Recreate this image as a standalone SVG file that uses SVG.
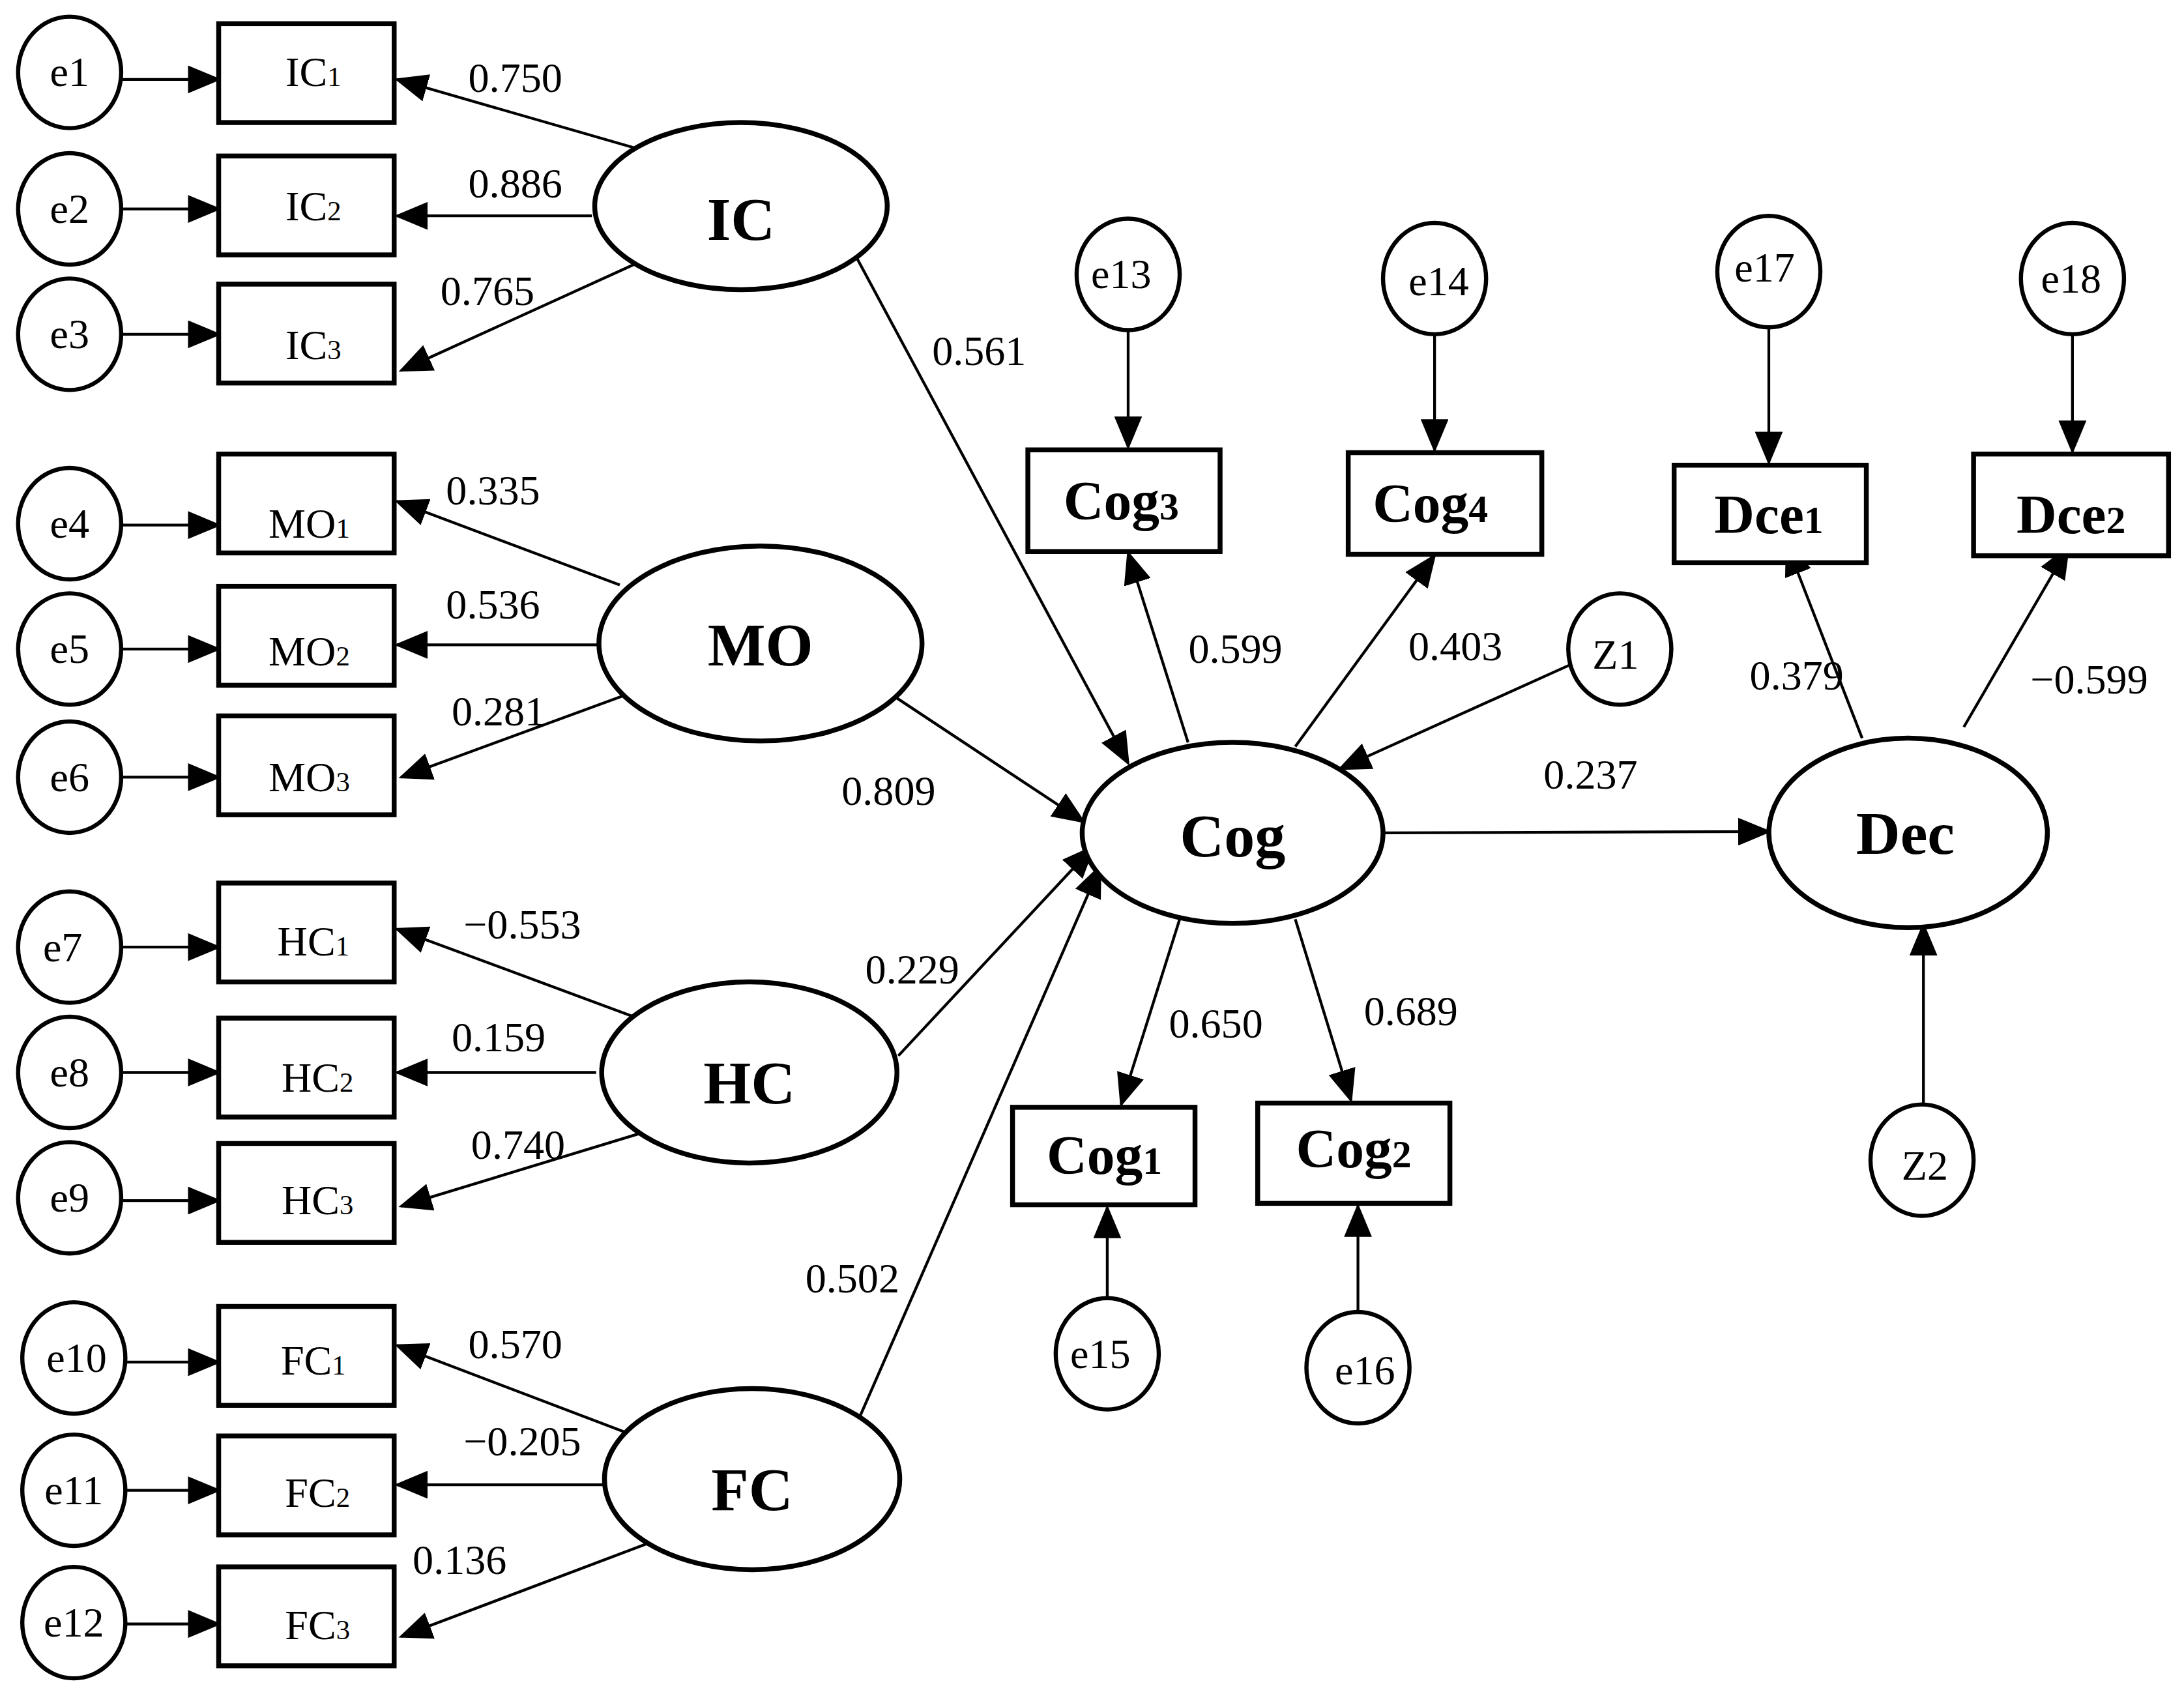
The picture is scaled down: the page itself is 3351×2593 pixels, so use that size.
<svg xmlns="http://www.w3.org/2000/svg" width="3351" height="2593" viewBox="0 0 3351 2593">
<defs>
<marker id="a" markerUnits="userSpaceOnUse" markerWidth="24" markerHeight="20" refX="22" refY="10" orient="auto" viewBox="0 0 24 20"><path d="M0,0 L24,10 L0,20 Z" fill="#000"/></marker>
<style>
.c{fill:#fff;stroke:#000;stroke-width:3}
.b{fill:#fff;stroke:#000;stroke-width:3.5}
.l{fill:none;stroke:#000;stroke-width:2;marker-end:url(#a)}
.t{font-family:"Liberation Serif",serif;font-size:30px;text-anchor:middle;fill:#000}
.n{font-family:"Liberation Serif",serif;font-size:44px;font-weight:bold;text-anchor:middle;fill:#000}
.m{font-family:"Liberation Serif",serif;font-size:40px;font-weight:bold;text-anchor:middle;fill:#000}
.s{font-size:20px}
.s2{font-size:28px}
</style>
</defs>
<rect width="3351" height="2593" fill="#fff"/>
<g transform="scale(2.137)">
<g id="connectors">
<path class="l" d="M88,57H157"/><path class="l" d="M88,150H157"/><path class="l" d="M88,240H157"/>
<path class="l" d="M88,377H157"/><path class="l" d="M88,466H157"/><path class="l" d="M88,558H157"/>
<path class="l" d="M88,680H157"/><path class="l" d="M88,770H157"/><path class="l" d="M88,862H157"/>
<path class="l" d="M90,978H157"/><path class="l" d="M90,1070H157"/><path class="l" d="M90,1166H157"/>
<path class="l" d="M455,106L285,57"/><path class="l" d="M425,155H285"/><path class="l" d="M455,190L288,266"/>
<path class="l" d="M607,170L810,548"/>
<path class="l" d="M445,420L285,360"/><path class="l" d="M430,463H285"/><path class="l" d="M460,495L288,558"/>
<path class="l" d="M630,492L778,590"/>
<path class="l" d="M455,730L285,667"/><path class="l" d="M428,770H285"/><path class="l" d="M462,813L288,866"/>
<path class="l" d="M645,758L785,608"/>
<path class="l" d="M448,1028L285,966"/><path class="l" d="M433,1066H285"/><path class="l" d="M468,1107L288,1175"/>
<path class="l" d="M617,1018L790,622"/>
<path class="l" d="M853,533L810,397"/><path class="l" d="M930,536L1030,399"/>
<path class="l" d="M1128,477L962,552"/><path class="l" d="M993,598L1270,597"/>
<path class="l" d="M847,660L805,793"/><path class="l" d="M930,660L970,790"/>
<path class="l" d="M1337,530L1283,391"/><path class="l" d="M1410,522L1485,393"/>
<path class="l" d="M1381,795V664"/>
<path class="l" d="M810,237V321"/><path class="l" d="M1030,240V323"/><path class="l" d="M1270,235V332"/><path class="l" d="M1488,240V324"/>
<path class="l" d="M795,932V867"/><path class="l" d="M975,944V866"/>
</g>
<g id="labels">
<text class="t" x="370" y="66">0.750</text><text class="t" x="370" y="142">0.886</text><text class="t" x="350" y="219">0.765</text>
<text class="t" x="703" y="262">0.561</text>
<text class="t" x="354" y="362">0.335</text><text class="t" x="354" y="444">0.536</text><text class="t" x="358" y="521">0.281</text>
<text class="t" x="638" y="578">0.809</text>
<text class="t" x="375" y="674">−0.553</text><text class="t" x="358" y="755">0.159</text><text class="t" x="372" y="832">0.740</text>
<text class="t" x="655" y="706">0.229</text>
<text class="t" x="370" y="975">0.570</text><text class="t" x="375" y="1045">−0.205</text><text class="t" x="330" y="1130">0.136</text>
<text class="t" x="612" y="928">0.502</text>
<text class="t" x="887" y="476">0.599</text><text class="t" x="1045" y="474">0.403</text>
<text class="t" x="1142" y="566">0.237</text>
<text class="t" x="1290" y="495">0.379</text><text class="t" x="1500" y="498">−0.599</text>
<text class="t" x="873" y="745">0.650</text><text class="t" x="1013" y="736">0.689</text>
</g>
<g id="e1"><ellipse class="c" cx="50" cy="52" rx="37" ry="40"/><text class="t" x="50" y="62">e1</text></g>
<g id="e2"><ellipse class="c" cx="50" cy="150" rx="37" ry="40"/><text class="t" x="50" y="160">e2</text></g>
<g id="e3"><ellipse class="c" cx="50" cy="240" rx="37" ry="40"/><text class="t" x="50" y="250">e3</text></g>
<g id="e4"><ellipse class="c" cx="50" cy="376" rx="37" ry="40"/><text class="t" x="50" y="386">e4</text></g>
<g id="e5"><ellipse class="c" cx="50" cy="466" rx="37" ry="40"/><text class="t" x="50" y="476">e5</text></g>
<g id="e6"><ellipse class="c" cx="50" cy="558" rx="37" ry="40"/><text class="t" x="50" y="568">e6</text></g>
<g id="e7"><ellipse class="c" cx="50" cy="680" rx="37" ry="40"/><text class="t" x="45" y="690">e7</text></g>
<g id="e8"><ellipse class="c" cx="50" cy="770" rx="37" ry="40"/><text class="t" x="50" y="780">e8</text></g>
<g id="e9"><ellipse class="c" cx="50" cy="860" rx="37" ry="40"/><text class="t" x="50" y="870">e9</text></g>
<g id="e10"><ellipse class="c" cx="53" cy="975" rx="37" ry="40"/><text class="t" x="55" y="985">e10</text></g>
<g id="e11"><ellipse class="c" cx="53" cy="1070" rx="37" ry="40"/><text class="t" x="53" y="1080">e11</text></g>
<g id="e12"><ellipse class="c" cx="53" cy="1165" rx="37" ry="40"/><text class="t" x="53" y="1175">e12</text></g>
<g id="IC1"><rect class="b" x="157" y="17" width="126" height="71"/><text class="t" x="225" y="62">IC<tspan class="s">1</tspan></text></g>
<g id="IC2"><rect class="b" x="157" y="112" width="126" height="71"/><text class="t" x="225" y="158">IC<tspan class="s">2</tspan></text></g>
<g id="IC3"><rect class="b" x="157" y="204" width="126" height="71"/><text class="t" x="225" y="258">IC<tspan class="s">3</tspan></text></g>
<g id="MO1"><rect class="b" x="157" y="326" width="126" height="71"/><text class="t" x="222" y="386">MO<tspan class="s">1</tspan></text></g>
<g id="MO2"><rect class="b" x="157" y="421" width="126" height="71"/><text class="t" x="222" y="478">MO<tspan class="s">2</tspan></text></g>
<g id="MO3"><rect class="b" x="157" y="514" width="126" height="71"/><text class="t" x="222" y="568">MO<tspan class="s">3</tspan></text></g>
<g id="HC1"><rect class="b" x="157" y="634" width="126" height="71"/><text class="t" x="225" y="686">HC<tspan class="s">1</tspan></text></g>
<g id="HC2"><rect class="b" x="157" y="731" width="126" height="71"/><text class="t" x="228" y="784">HC<tspan class="s">2</tspan></text></g>
<g id="HC3"><rect class="b" x="157" y="821" width="126" height="71"/><text class="t" x="228" y="872">HC<tspan class="s">3</tspan></text></g>
<g id="FC1"><rect class="b" x="157" y="938" width="126" height="71"/><text class="t" x="225" y="987">FC<tspan class="s">1</tspan></text></g>
<g id="FC2"><rect class="b" x="157" y="1031" width="126" height="71"/><text class="t" x="228" y="1082">FC<tspan class="s">2</tspan></text></g>
<g id="FC3"><rect class="b" x="157" y="1125" width="126" height="71"/><text class="t" x="228" y="1177">FC<tspan class="s">3</tspan></text></g>
<g id="IC"><ellipse class="b" cx="532" cy="148" rx="105" ry="60"/><text class="n" x="532" y="172">IC</text></g>
<g id="MO"><ellipse class="b" cx="546" cy="462" rx="116" ry="70"/><text class="n" x="546" y="478">MO</text></g>
<g id="HC"><ellipse class="b" cx="538" cy="770" rx="106" ry="65"/><text class="n" x="538" y="792">HC</text></g>
<g id="FC"><ellipse class="b" cx="540" cy="1062" rx="106" ry="65"/><text class="n" x="540" y="1084">FC</text></g>
<g id="Cog"><ellipse class="b" cx="885" cy="598" rx="108" ry="65"/><text class="n" x="885" y="615">Cog</text></g>
<g id="Dec"><ellipse class="b" cx="1370" cy="598" rx="100" ry="68"/><text class="n" x="1368" y="613">Dec</text></g>
<g id="Cog3"><rect class="b" x="738" y="323" width="138" height="73"/><text class="m" x="805" y="373">Cog<tspan class="s2">3</tspan></text></g>
<g id="Cog4"><rect class="b" x="968" y="325" width="139" height="73"/><text class="m" x="1027" y="375">Cog<tspan class="s2">4</tspan></text></g>
<g id="Dce1"><rect class="b" x="1202" y="334" width="138" height="70"/><text class="m" x="1270" y="383">Dce<tspan class="s2">1</tspan></text></g>
<g id="Dce2"><rect class="b" x="1417" y="326" width="140" height="73"/><text class="m" x="1487" y="383">Dce<tspan class="s2">2</tspan></text></g>
<g id="Cog1"><rect class="b" x="727" y="795" width="131" height="70"/><text class="m" x="793" y="843">Cog<tspan class="s2">1</tspan></text></g>
<g id="Cog2"><rect class="b" x="903" y="792" width="138" height="72"/><text class="m" x="972" y="838">Cog<tspan class="s2">2</tspan></text></g>
<g id="e13"><ellipse class="c" cx="810" cy="197" rx="37" ry="40"/><text class="t" x="805" y="207">e13</text></g>
<g id="e14"><ellipse class="c" cx="1030" cy="200" rx="37" ry="40"/><text class="t" x="1033" y="212">e14</text></g>
<g id="e17"><ellipse class="c" cx="1270" cy="195" rx="37" ry="40"/><text class="t" x="1267" y="202">e17</text></g>
<g id="e18"><ellipse class="c" cx="1488" cy="200" rx="37" ry="40"/><text class="t" x="1487" y="210">e18</text></g>
<g id="Z1"><ellipse class="c" cx="1163" cy="466" rx="37" ry="40"/><text class="t" x="1160" y="480">Z1</text></g>
<g id="Z2"><ellipse class="c" cx="1380" cy="833" rx="37" ry="40"/><text class="t" x="1382" y="847">Z2</text></g>
<g id="e15"><ellipse class="c" cx="795" cy="972" rx="37" ry="40"/><text class="t" x="790" y="982">e15</text></g>
<g id="e16"><ellipse class="c" cx="975" cy="982" rx="37" ry="40"/><text class="t" x="980" y="994">e16</text></g>
</g>
</svg>
